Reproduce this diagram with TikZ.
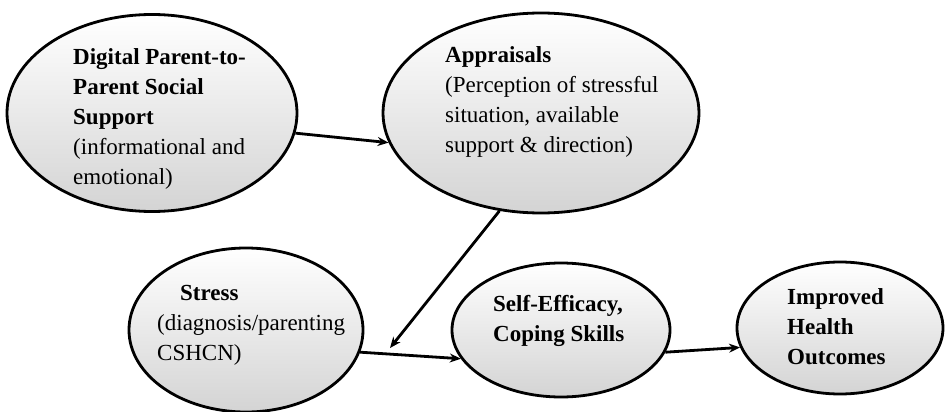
\documentclass[tikz,border=0pt]{standalone}
\usepackage{fontspec}
\setmainfont{Liberation Serif}
\usetikzlibrary{positioning, shapes.geometric, arrows.meta}

\begin{document}
\begin{tikzpicture}[x=1pt, y=-1pt,
    oval/.style={ellipse, draw, line width=2.8pt, top color=white, bottom color=black!17, inner sep=0},
    txt/.style={align=left, anchor=north west, inner sep=0, font=\fontsize{23}{30}\selectfont},
    arr/.style={line width=2.8pt, -{Stealth[length=11pt, width=9pt]}}]
  \useasboundingbox (0, 0) rectangle (945, 412);

  \node[oval, minimum width=290pt, minimum height=197pt] (dig) at (152, 113) {};
  \node[oval, minimum width=316pt, minimum height=200pt] (app) at (541, 113) {};
  \node[oval, minimum width=234pt, minimum height=164pt] (str) at (246, 330) {};
  \node[oval, minimum width=218pt, minimum height=134pt] (self) at (561, 330) {};
  \node[oval, minimum width=206pt, minimum height=132pt] (imp) at (840, 328) {};

  \node[txt] (digtext) at (73, 48) {\textbf{Digital Parent-to-}\\ \textbf{Parent Social}\\ \textbf{Support}\\ (informational and\\ emotional)};
  \node[txt] (apptext) at (445, 46) {\textbf{Appraisals}\\ (Perception of stressful\\ situation, available\\ support \& direction)};
  \node[txt] (strtext) at (157, 285) {\hspace*{23pt}\textbf{Stress}\\ (diagnosis/parenting\\ CSHCN)};
  \node[txt] (selftext) at (493, 295) {\textbf{Self-Efficacy,}\\ \textbf{Coping Skills}};
  \node[txt] (imptext) at (787, 288) {\textbf{Improved}\\ \textbf{Health}\\ \textbf{Outcomes}};

  \coordinate (meet) at (390, 348);

  \draw[arr] (dig.-8) -- (app.191);
  \draw[arr] (app.247) -- (meet);
  \draw[arr] (str.-11) -- (self.196);
  \draw[arr] (self.-12) -- (imp.191);
\end{tikzpicture}
\end{document}
